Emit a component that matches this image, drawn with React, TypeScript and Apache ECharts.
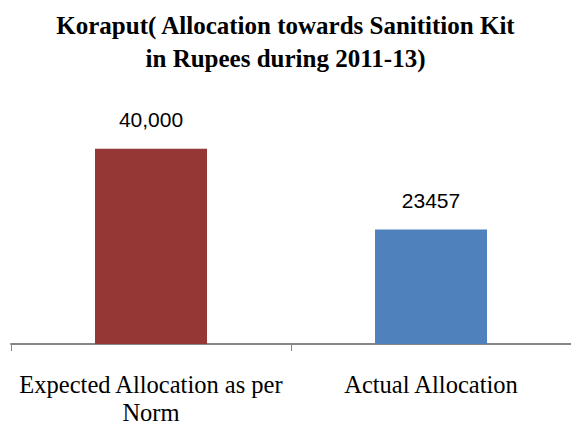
import React, { useEffect, useRef } from "react";
import * as echarts from "echarts";

const categories = ["Expected Allocation as per\nNorm", "Actual Allocation"];
const values = [40000, 23457];
const valueLabels = ["40,000", "23457"];
const barColors = ["#953735", "#4F81BD"];
const titleText = "Koraput( Allocation towards Sanitition Kit\nin Rupees during 2011-13)";

export default function App() {
  const ref = useRef<HTMLDivElement>(null);
  useEffect(() => {
    if (!ref.current) return;
    const chart = echarts.init(ref.current, null, { renderer: "svg" });
    chart.setOption({
      animation: false,
      backgroundColor: "#ffffff",
      title: {
        text: titleText,
        left: "center",
        top: 4,
        textStyle: {
          fontFamily: "'Liberation Serif', 'DejaVu Serif', serif",
          fontWeight: "bold",
          fontSize: 25,
          lineHeight: 33,
          color: "#000000",
        },
      },
      grid: { left: 11, right: 0, top: 100, bottom: 81, containLabel: false },
      xAxis: {
        type: "category",
        data: categories,
        axisLine: { lineStyle: { color: "#868686", width: 2 } },
        axisTick: { show: true, length: 7, lineStyle: { color: "#868686", width: 1 } },
        axisLabel: {
          fontFamily: "'Liberation Serif', serif",
          fontSize: 24.5,
          lineHeight: 28,
          color: "#000000",
          margin: 26,
          interval: 0,
        },
      },
      yAxis: {
        type: "value",
        min: 0,
        max: 50000,
        show: false,
        splitLine: { show: false },
      },
      series: [
        {
          type: "bar",
          barWidth: 112,
          data: values.map((v, i) => ({
            value: v,
            itemStyle: { color: barColors[i] },
            label: { formatter: valueLabels[i] },
          })),
          label: {
            show: true,
            position: "top",
            distance: 19,
            fontFamily: "'Liberation Sans', sans-serif",
            fontSize: 21,
            color: "#000000",
          },
        },
      ],
    });
    return () => chart.dispose();
  }, []);
  return (
    <div
      ref={ref}
      style={{ position: "fixed", left: 0, top: 0, width: 571, height: 426 }}
    />
  );
}
